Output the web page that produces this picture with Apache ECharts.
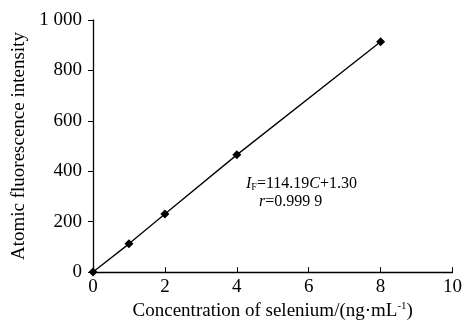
<!DOCTYPE html>
<html>
<head>
<meta charset="utf-8">
<script src="https://cdn.jsdelivr.net/npm/echarts@6/dist/echarts.min.js"></script>
<style>
  html, body { margin: 0; padding: 0; background: #fff; }
  #main { width: 465px; height: 326px; }
</style>
</head>
<body>
<div id="main"></div>
<script>
// concentration (ng/mL) and intensity readings
var conc = [0, 1, 2, 4, 8];
var intensity = [0, 112, 230, 465, 914];
var yTicks = [0, 200, 400, 600, 800, 1000];

var font = 'Liberation Serif, Times New Roman, serif';

var chart = echarts.init(document.getElementById('main'));

var option = {
    animation: false,
    backgroundColor: '#fff',
    grid: { left: 93, right: 11, top: 20, bottom: 53 },
    xAxis: {
        type: 'value',
        min: 0, max: 10, interval: 2,
        name: 'Concentration of selenium/(ng·mL{sup|-1})',
        nameLocation: 'middle',
        nameGap: 25,
        nameTextStyle: {
            fontFamily: font, fontSize: 19, color: '#000',
            rich: { sup: { fontFamily: font, fontSize: 11, color: '#000', verticalAlign: 'top', padding: [0, 0, 10, 0] } }
        },
        axisLine: { lineStyle: { color: '#000', width: 1.3 } },
        axisTick: { inside: true, length: 5, lineStyle: { color: '#000' } },
        axisLabel: { fontFamily: font, fontSize: 19, color: '#000', margin: 5 },
        splitLine: { show: false }
    },
    yAxis: {
        type: 'value',
        min: 0, max: 1000, interval: 200,
        name: 'Atomic fluorescence intensity',
        nameLocation: 'middle',
        nameGap: 64,
        nameTextStyle: { fontFamily: font, fontSize: 19, color: '#000' },
        axisLine: { show: true, lineStyle: { color: '#000', width: 1.3 } },
        axisTick: { show: true, length: 5, lineStyle: { color: '#000' } },
        axisLabel: {
            fontFamily: font, fontSize: 19, color: '#000', margin: 11,
            formatter: function (v) {
                return yTicks.indexOf(v) >= 0 && v >= 1000 ? '1 000' : String(v);
            }
        },
        splitLine: { show: false }
    },
    series: [{
        type: 'line',
        data: conc.map(function (c, i) { return [c, intensity[i]]; }),
        symbol: 'diamond',
        symbolSize: 9,
        showAllSymbol: true,
        lineStyle: { color: '#000', width: 1.3 },
        itemStyle: { color: '#000' }
    }],
    graphic: [{
        type: 'text',
        left: 246, top: 176,
        style: {
            text: '{i|I}{sub|F}{n|=114.19}{i|C}{n|+1.30}',
            rich: {
                i: { fontFamily: font, fontSize: 16, fontStyle: 'italic', fill: '#000' },
                n: { fontFamily: font, fontSize: 16, fill: '#000' },
                sub: { fontFamily: font, fontSize: 10, fill: '#000', verticalAlign: 'bottom', padding: [6, 0, 0, 0] }
            }
        }
    }, {
        type: 'text',
        left: 259, top: 194,
        style: {
            text: '{i|r}{n|=0.999 9}',
            rich: {
                i: { fontFamily: font, fontSize: 16, fontStyle: 'italic', fill: '#000' },
                n: { fontFamily: font, fontSize: 16, fill: '#000' }
            }
        }
    }]
};

chart.setOption(option);
</script>
</body>
</html>
